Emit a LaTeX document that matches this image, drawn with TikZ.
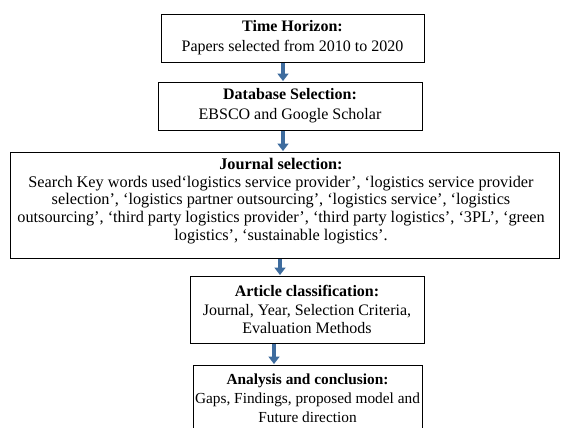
\documentclass[tikz,border=0pt]{standalone}
\usepackage{fontspec}
\setmainfont{Liberation Serif}
\usetikzlibrary{arrows.meta}
\definecolor{arrblue}{HTML}{3E6C9E}
\tikzset{
  box/.style={draw=black, line width=0.6pt, rectangle, inner sep=0pt, align=center},
  txt/.style={inner sep=0pt, align=center},
  arr/.style={draw=arrblue, line width=3.2pt, -{Triangle[width=8pt,length=5.5pt]}, shorten <=0.4pt, shorten >=0.4pt}
}
\begin{document}
\begin{tikzpicture}[x=0.75pt,y=-0.75pt]
\clip (0,0) rectangle (561,428);
\fill[white] (0,0) rectangle (561,428);
% boxes
\node[box, minimum width=197.25pt, minimum height=36pt, font=\fontsize{12}{15}\selectfont] (b1) at (292.5,38)
  {\textbf{Time Horizon:}\\Papers selected from 2010 to 2020};
\node[box, minimum width=198pt, minimum height=36pt, font=\fontsize{12}{15}\selectfont] (b2) at (290,106)
  {\textbf{Database Selection:}\\EBSCO and Google Scholar};
\node[box, minimum width=411.75pt, minimum height=79.5pt] (b3) at (284.5,205) {};
\node[txt, font=\fontsize{12.2}{13.4}\selectfont] (t3) at (281,201)
  {\textbf{Journal selection:}\\
  Search Key words used‘logistics service provider’, ‘logistics service provider\\
  selection’, ‘logistics partner outsourcing’, ‘logistics service’, ‘logistics\\
  outsourcing’, ‘third party logistics provider’, ‘third party logistics’, ‘3PL’, ‘green\\
  logistics’, ‘sustainable logistics’.};
\node[box, minimum width=175.5pt, minimum height=50.25pt, font=\fontsize{12}{13.8}\selectfont] (b4) at (307,309.5)
  {\textbf{Article classification:}\\Journal, Year, Selection Criteria,\\Evaluation Methods};
\node[box, minimum width=171.75pt, minimum height=49.5pt, font=\fontsize{11.5}{14.4}\selectfont] (b5) at (307.5,398)
  {\textbf{Analysis and conclusion:}\\Gaps, Findings, proposed model and\\Future direction};
% arrow columns
\coordinate (xa) at (283,0);
\coordinate (xb) at (283,0);
\coordinate (xc) at (280,0);
\coordinate (xd) at (274,0);
\draw[arr] (b1.south -| xa) -- (b2.north -| xa);
\draw[arr] (b2.south -| xb) -- (b3.north -| xb);
\draw[arr] (b3.south -| xc) -- (b4.north -| xc);
\draw[arr] (b4.south -| xd) -- (b5.north -| xd);
\end{tikzpicture}
\end{document}
